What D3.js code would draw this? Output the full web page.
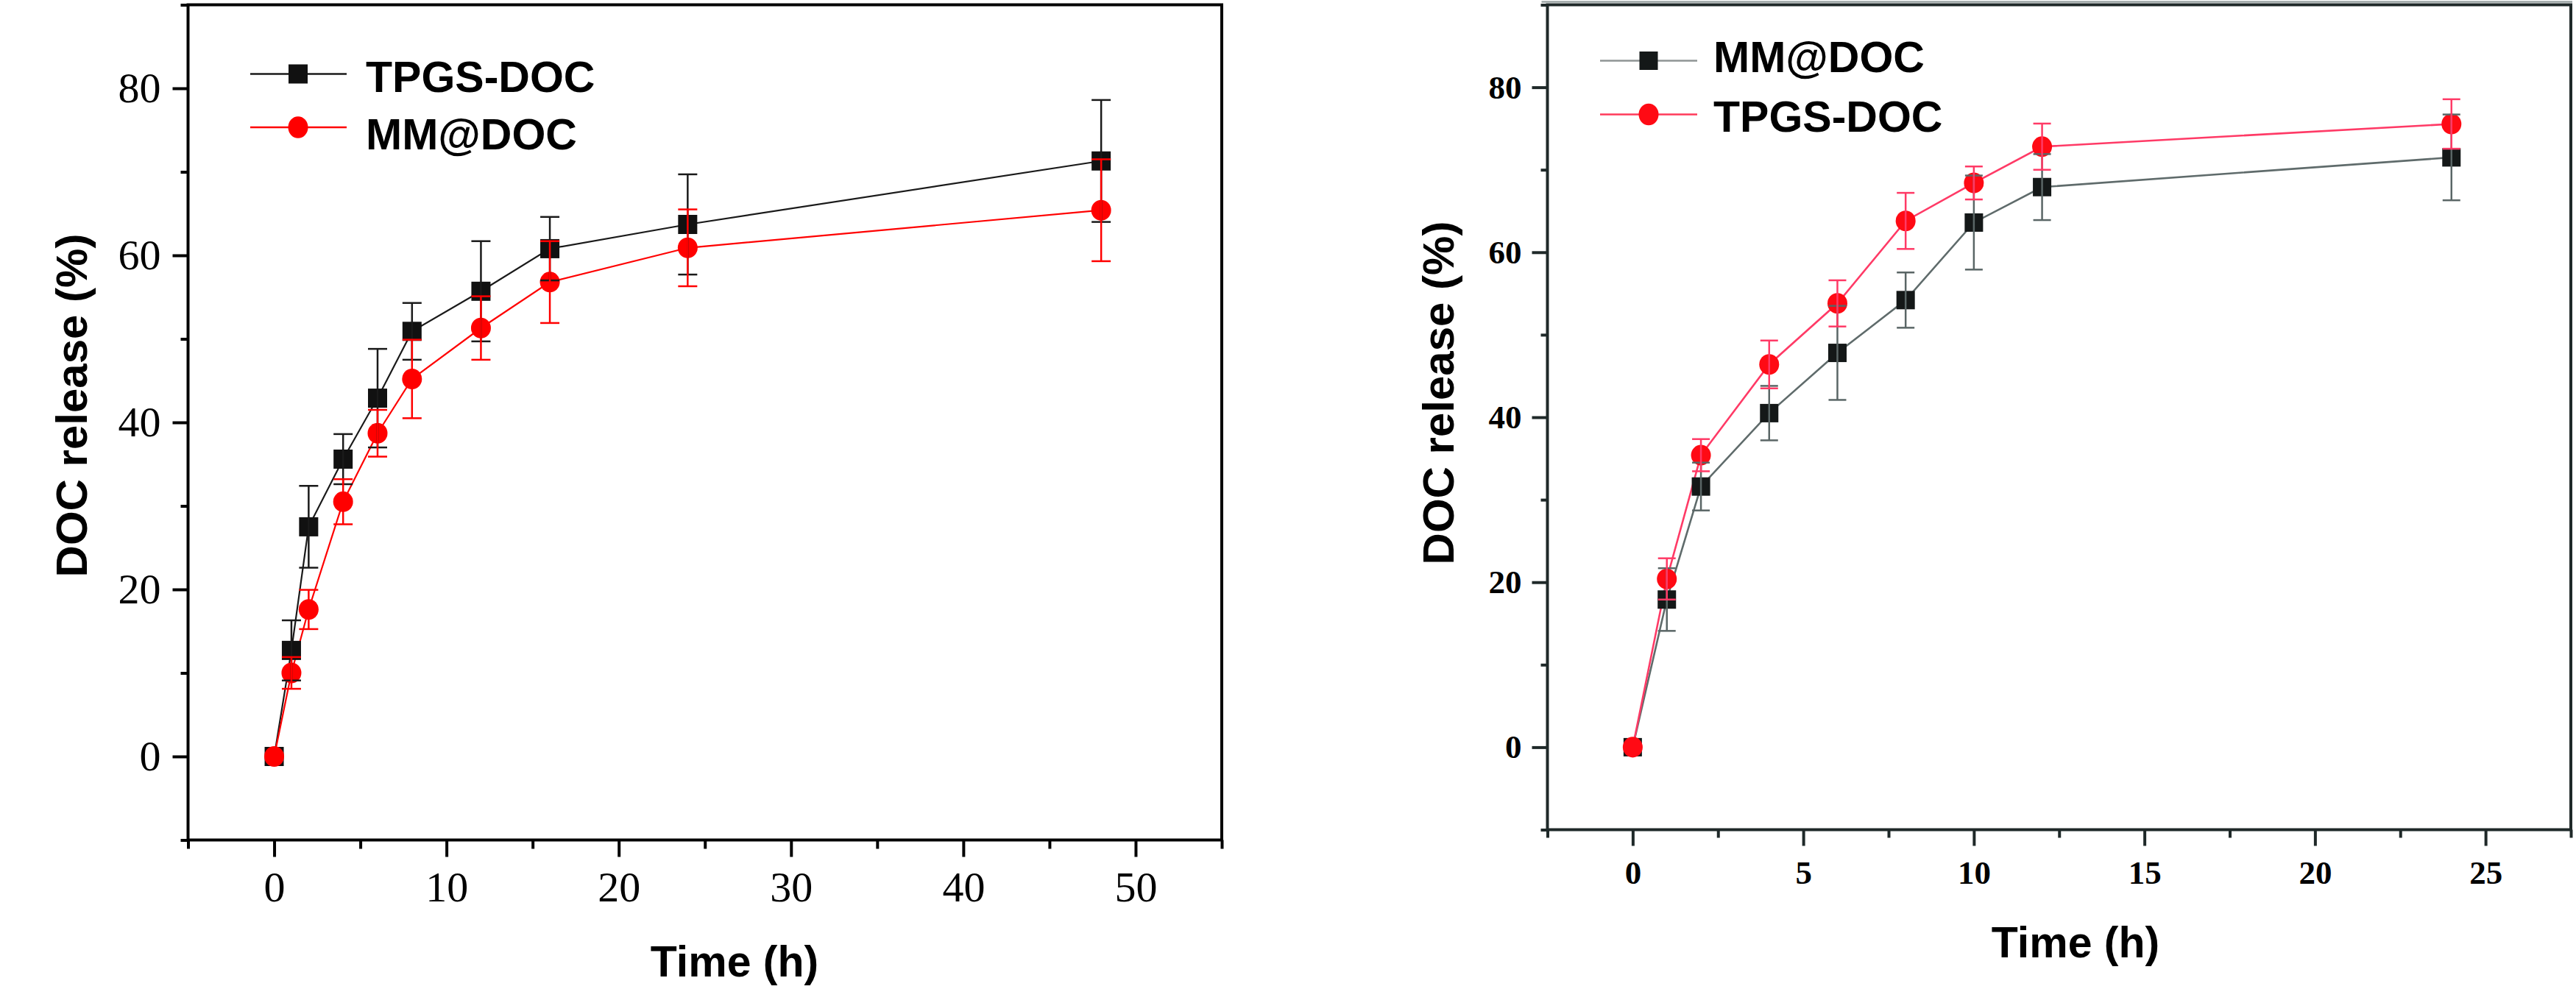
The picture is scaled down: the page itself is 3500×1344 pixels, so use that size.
<!DOCTYPE html>
<html>
<head>
<meta charset="utf-8">
<script src="https://cdn.jsdelivr.net/npm/d3@7"></script>
<style>
html,body{margin:0;padding:0;background:#fff;}
svg{display:block;}
</style>
</head>
<body>
<svg id="chart" width="3500" height="1344"></svg>
<script>
// ---------- DATA ----------
// Left panel
const leftTimes = [0, 1, 2, 4, 6, 8, 12, 16, 24, 48];
const leftTPGS = [0, 12.7, 27.5, 35.6, 42.9, 50.9, 55.7, 60.8, 63.7, 71.3];
const leftTPGSErr = [0, 3.6, 4.9, 3.0, 5.9, 3.4, 6.0, 3.8, 6.0, 7.3];
const leftMM = [0, 10.0, 17.6, 30.5, 38.7, 45.2, 51.3, 56.8, 60.9, 65.4];
const leftMMErr = [0, 1.9, 2.35, 2.7, 2.8, 4.7, 3.8, 4.9, 4.6, 6.1];
const leftXTicks = [0, 10, 20, 30, 40, 50];
const leftXMinor = [-5, 5, 15, 25, 35, 45, 55];
const leftYTicks = [0, 20, 40, 60, 80];
const leftYMinor = [-10, 10, 30, 50, 70, 90];
const leftLegend = ["TPGS-DOC", "MM@DOC"];

// Right panel
const rightTimes = [0, 1, 2, 4, 6, 8, 10, 12, 24];
const rightMM = [0, 17.9, 31.6, 40.5, 47.8, 54.2, 63.6, 67.9, 71.5];
const rightMMErr = [0, 3.8, 2.9, 3.3, 5.7, 3.35, 5.7, 4.0, 5.2];
const rightTPGS = [0, 20.4, 35.4, 46.4, 53.8, 63.8, 68.4, 72.8, 75.55];
const rightTPGSErr = [0, 2.5, 1.95, 2.9, 2.8, 3.4, 2.0, 2.8, 3.0];
const rightXTicks = [0, 5, 10, 15, 20, 25];
const rightXMinor = [-2.5, 2.5, 7.5, 12.5, 17.5, 22.5, 27.5];
const rightYTicks = [0, 20, 40, 60, 80];
const rightYMinor = [-10, 10, 30, 50, 70, 90];
const rightLegend = ["MM@DOC", "TPGS-DOC"];

const xTitle = "Time (h)";
const yTitle = "DOC release (%)";

// ---------- DRAW ----------
const svg = d3.select("#chart");
svg.append("rect").attr("width", 3500).attr("height", 1344).attr("fill", "#fff");

const SANS = "'Liberation Sans', Arial, sans-serif";
const SERIF = "'Liberation Serif', 'Times New Roman', serif";

function drawPanel(o) {
  const x = d3.scaleLinear().domain(o.xDomain).range(o.xRange);
  const y = d3.scaleLinear().domain(o.yDomain).range(o.yRange);
  const g = svg.append("g");
  const yb = o.yRange[0], yt = o.yRange[1], xl = o.xRange[0], xr = o.xRange[1];

  function styleAxis(sel, fontSize, weight) {
    sel.select(".domain").remove();
    sel.selectAll(".tick line").attr("stroke", o.axisColor).attr("stroke-width", 4);
    sel.selectAll(".tick text").attr("fill", "#000")
      .style("font-family", SERIF).style("font-size", fontSize + "px").style("font-weight", weight);
  }

  // minor ticks
  g.append("g").attr("transform", `translate(0,${yb})`)
    .call(d3.axisBottom(x).tickValues(o.xMinor).tickSize(o.xMinorLen).tickFormat(""))
    .call(s => styleAxis(s, o.tickFont, o.tickWeight));
  g.append("g").attr("transform", `translate(${xl},0)`)
    .call(d3.axisLeft(y).tickValues(o.yMinor).tickSize(o.yMinorLen).tickFormat(""))
    .call(s => styleAxis(s, o.tickFont, o.tickWeight));
  // major ticks
  g.append("g").attr("transform", `translate(0,${yb})`)
    .call(d3.axisBottom(x).tickValues(o.xTicks).tickSize(o.xMajorLen).tickPadding(o.xPad).tickFormat(d3.format("d")))
    .call(s => styleAxis(s, o.tickFont, o.tickWeight));
  g.append("g").attr("transform", `translate(${xl},0)`)
    .call(d3.axisLeft(y).tickValues(o.yTicks).tickSize(o.yMajorLen).tickPadding(o.yPad).tickFormat(d3.format("d")))
    .call(s => styleAxis(s, o.tickFont, o.tickWeight));

  // frame
  if (o.topGrey) {
    g.append("line").attr("x1", xl - 8).attr("x2", xr + 2).attr("y1", yt - 4).attr("y2", yt - 4)
      .attr("stroke", "#9aa3a3").attr("stroke-width", 2.5);
  }
  g.append("rect").attr("x", xl).attr("y", yt).attr("width", xr - xl).attr("height", yb - yt)
    .attr("fill", "none").attr("stroke", o.axisColor).attr("stroke-width", 4);

  // axis titles
  g.append("text").attr("x", o.xTitlePos[0]).attr("y", o.xTitlePos[1])
    .attr("text-anchor", "middle").style("font-family", SANS).style("font-weight", "bold")
    .style("font-size", "59px").attr("fill", "#000").text(xTitle);
  g.append("text").attr("transform", `translate(${o.yTitlePos[0]},${o.yTitlePos[1]}) rotate(-90)`)
    .attr("text-anchor", "middle").style("font-family", SANS).style("font-weight", "bold")
    .style("font-size", "60px").attr("fill", "#000").text(yTitle);

  // series
  const series = o.series;
  const line = (vals) => d3.line().x((d, i) => x(o.times[i])).y(d => y(d))(vals);
  series.forEach(s => {
    g.append("path").attr("d", line(s.vals)).attr("fill", "none")
      .attr("stroke", s.lineColor).attr("stroke-width", s.lineWidth);
  });
  series.forEach(s => {
    const mk = g.append("g");
    if (s.shape === "square") {
      mk.selectAll("rect").data(s.vals).join("rect")
        .attr("x", (d, i) => x(o.times[i]) - o.sq / 2).attr("y", d => y(d) - o.sq / 2)
        .attr("width", o.sq).attr("height", o.sq).attr("fill", s.markColor);
    } else {
      mk.selectAll("ellipse").data(s.vals).join("ellipse")
        .attr("cx", (d, i) => x(o.times[i])).attr("cy", d => y(d))
        .attr("rx", o.cr).attr("ry", o.cr * 1.04).attr("fill", s.markColor);
    }
  });
  series.forEach(s => {
    const eb = g.append("g").attr("stroke", s.errColor).attr("stroke-width", 2.5);
    s.vals.forEach((v, i) => {
      const e = s.errs[i];
      if (!e) return;
      const cx = x(o.times[i]);
      eb.append("line").attr("x1", cx).attr("x2", cx).attr("y1", y(v + e)).attr("y2", y(v - e));
      eb.append("line").attr("x1", cx - o.cap / 2).attr("x2", cx + o.cap / 2).attr("y1", y(v + e)).attr("y2", y(v + e));
      eb.append("line").attr("x1", cx - o.cap / 2).attr("x2", cx + o.cap / 2).attr("y1", y(v - e)).attr("y2", y(v - e));
    });
  });

  // legend
  const L = o.legend;
  series.forEach((s, i) => {
    const ly = L.y[i];
    g.append("line").attr("x1", L.x1).attr("x2", L.x2).attr("y1", ly).attr("y2", ly)
      .attr("stroke", s.legendLine).attr("stroke-width", 2.5);
    if (s.shape === "square") {
      g.append("rect").attr("x", L.mx - o.sq / 2).attr("y", ly - o.sq / 2)
        .attr("width", o.sq).attr("height", o.sq).attr("fill", s.markColor);
    } else {
      g.append("ellipse").attr("cx", L.mx).attr("cy", ly).attr("rx", o.cr).attr("ry", o.cr * 1.1).attr("fill", s.markColor);
    }
    g.append("text").attr("x", L.tx).attr("y", L.ty[i])
      .style("font-family", SANS).style("font-weight", "bold").style("font-size", "59px")
      .attr("fill", "#000").text(s.name);
  });
}

drawPanel({
  xDomain: [-5, 55], xRange: [255.5, 1660],
  yDomain: [-10, 90], yRange: [1141.5, 6.5],
  times: leftTimes,
  xTicks: leftXTicks, xMinor: leftXMinor, yTicks: leftYTicks, yMinor: leftYMinor,
  xMajorLen: 23, xMinorLen: 12, yMajorLen: 21, yMinorLen: 10,
  xPad: 19, yPad: 16, tickFont: 58, tickWeight: "normal",
  axisColor: "#000", topGrey: false,
  xTitlePos: [998, 1327], yTitlePos: [118, 551],
  sq: 26, cr: 13.5, cap: 26,
  series: [
    { name: leftLegend[0], vals: leftTPGS, errs: leftTPGSErr, shape: "square",
      lineColor: "#1a1a1a", lineWidth: 2.2, markColor: "#111", errColor: "#1a1a1a", legendLine: "#1a1a1a" },
    { name: leftLegend[1], vals: leftMM, errs: leftMMErr, shape: "circle",
      lineColor: "#ff0000", lineWidth: 2.2, markColor: "#ff0000", errColor: "#ff0000", legendLine: "#ff0000" }
  ],
  legend: { x1: 340, x2: 471, mx: 405, y: [100.5, 173], tx: 497, ty: [125, 203] }
});

drawPanel({
  xDomain: [-2.5, 27.5], xRange: [2102.5, 3493],
  yDomain: [-10, 90], yRange: [1127.5, 6.5],
  times: rightTimes,
  xTicks: rightXTicks, xMinor: rightXMinor, yTicks: rightYTicks, yMinor: rightYMinor,
  xMajorLen: 22, xMinorLen: 11, yMajorLen: 21, yMinorLen: 9,
  xPad: 20, yPad: 14, tickFont: 45, tickWeight: "bold",
  axisColor: "#1f2929", topGrey: true,
  xTitlePos: [2820, 1301], yTitlePos: [1975, 534],
  sq: 25, cr: 13.5, cap: 24,
  series: [
    { name: rightLegend[0], vals: rightMM, errs: rightMMErr, shape: "square",
      lineColor: "#5f6b6b", lineWidth: 2.6, markColor: "#141818", errColor: "#5a6666", legendLine: "#8f9494" },
    { name: rightLegend[1], vals: rightTPGS, errs: rightTPGSErr, shape: "circle",
      lineColor: "#ff3a66", lineWidth: 2.6, markColor: "#ff0a14", errColor: "#ff3a66", legendLine: "#ff3a5a" }
  ],
  legend: { x1: 2174, x2: 2306, mx: 2240, y: [82.5, 155.5], tx: 2328, ty: [98, 178.5] }
});
</script>
</body>
</html>
